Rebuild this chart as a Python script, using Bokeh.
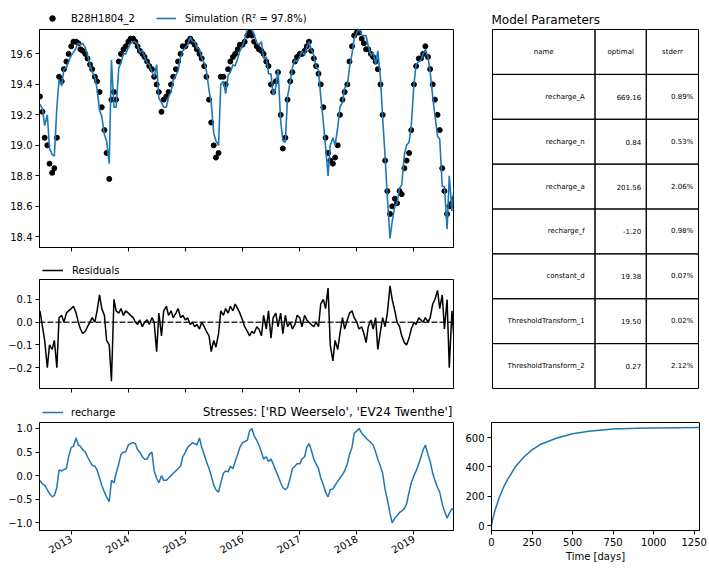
import math
import pandas as pd
from bokeh.plotting import figure
from bokeh.layouts import row, column
from bokeh.models import (Range1d, FixedTicker, DatetimeTickFormatter, Legend, LegendItem,
                          Span, ColumnDataSource, CustomJSTickFormatter, Label)
from bokeh.core.properties import value
from bokeh.embed import file_html
from bokeh.resources import INLINE

# ---------------- data (semi-monthly readings: 1st and 15th of each month) ----------------
obs_2012 = [19.32, 19.22, 19.05, 19.00, 18.88, 18.82, 18.85, 19.05, 19.45, 19.42, 19.50, 19.55, 19.60]
obs_2013 = [19.65, 19.68, 19.68, 19.67, 19.63, 19.62, 19.60, 19.57, 19.53, 19.50, 19.45, 19.42,
            19.35, 19.25, 19.10, 18.95, 18.78, 19.30, 19.35, 19.30, 19.55, 19.60, 19.63, 19.65]
obs_2014 = [19.68, 19.70, 19.70, 19.68, 19.65, 19.62, 19.60, 19.58, 19.55, 19.52, 19.50, 19.45,
            19.40, 19.35, 19.22, 19.30, 19.32, 19.35, 19.40, 19.45, 19.50, 19.55, 19.60, 19.65]
obs_2015 = [19.65, 19.68, 19.70, 19.68, 19.66, 19.63, 19.60, 19.57, 19.52, 19.45, 19.30, 19.15,
            19.00, 18.92, 18.95, 19.45, 19.45, 19.40, 19.50, 19.55, 19.58, 19.60, 19.63, 19.66]
obs_2016 = [19.66, 19.68, 19.72, 19.74, 19.72, 19.68, 19.65, 19.63, 19.62, 19.60, 19.55, 19.52,
            19.40, 19.35, 19.42, 19.48, 19.20, 18.98, 19.05, 19.30, 19.42, 19.48, 19.55, 19.58]
obs_2017 = [19.60, 19.60, 19.62, 19.65, 19.68, 19.62, 19.57, 19.52, 19.47, 19.40, 19.25, 19.05,
            18.95, 18.90, 18.88, 18.92, 19.00, 19.20, 19.30, 19.35, 19.40, 19.55, 19.65, 19.72]
obs_2018 = [19.74, 19.74, 19.70, 19.67, 19.63, 19.63, 19.60, 19.58, 19.55, 19.50, 19.40, 19.20,
            18.90, 18.70, 18.55, 18.60, 18.65, 18.62, 18.70, 18.68, 18.85, 18.90, 18.95, 19.10]
obs_2019 = [19.40, 19.52, 19.57, 19.57, 19.60, 19.65, 19.58, 19.50, 19.40, 19.30, 19.20, 19.10,
            18.85, 18.70, 18.55, 18.60, 18.62, 18.65]

res_2012 = [0.05, -0.02, -0.08, -0.20, -0.10, -0.12, -0.08, -0.20, 0.02, 0.03, 0.00, 0.04, 0.05]
res_2013 = [0.06, 0.07, 0.04, 0.00, -0.03, -0.05, -0.04, -0.02, 0.00, 0.02, 0.00, 0.05,
            0.12, 0.06, 0.03, -0.08, -0.10, -0.26, 0.10, 0.05, 0.04, 0.06, 0.03, 0.05]
res_2014 = [0.04, 0.03, 0.02, 0.00, -0.01, 0.01, -0.02, 0.00, 0.01, -0.01, 0.02, 0.00,
            -0.13, 0.04, -0.06, 0.05, 0.07, 0.03, 0.05, 0.02, 0.04, 0.06, 0.02, 0.03]
res_2015 = [0.01, 0.02, -0.01, 0.00, -0.02, -0.01, -0.03, 0.00, -0.02, -0.04, -0.06, -0.13,
            -0.08, -0.11, -0.05, 0.05, 0.03, 0.06, 0.04, 0.07, 0.05, 0.08, 0.06, 0.04]
res_2016 = [0.01, -0.02, -0.04, -0.06, -0.04, -0.05, -0.02, -0.03, -0.06, 0.03, -0.03, 0.05,
            -0.07, 0.02, 0.04, -0.02, 0.04, -0.05, 0.03, -0.02, 0.00, -0.03, -0.01, 0.03]
res_2017 = [0.02, -0.02, 0.03, 0.01, 0.00, -0.01, -0.02, 0.00, -0.02, 0.08, 0.10, 0.06,
            0.15, -0.10, -0.17, -0.08, -0.12, -0.05, 0.02, -0.03, 0.01, 0.04, 0.05, 0.02]
res_2018 = [0.00, -0.03, -0.02, -0.05, -0.09, -0.02, 0.01, -0.03, 0.02, -0.12, -0.04, 0.02,
            -0.02, 0.04, 0.16, 0.10, 0.05, 0.00, -0.02, -0.06, -0.09, -0.10, -0.07, -0.03]
res_2019 = [0.00, -0.01, 0.02, 0.01, 0.00, 0.02, 0.00, 0.02, 0.08, 0.10, 0.14, 0.06,
            0.12, -0.03, 0.10, -0.20, 0.05, -0.08]

rch_2012 = [-0.10, -0.18, -0.20, -0.30, -0.38, -0.45, -0.42, -0.25, 0.12, 0.10, 0.13, 0.15, 0.40]
rch_2013 = [0.60, 0.62, 0.80, 0.65, 0.62, 0.55, 0.50, 0.40, 0.30, 0.22, 0.20, 0.12,
            -0.05, -0.20, -0.35, -0.45, -0.55, -0.10, -0.15, 0.05, 0.25, 0.45, 0.50, 0.50]
rch_2014 = [0.65, 0.68, 0.70, 0.68, 0.55, 0.50, 0.40, 0.35, 0.35, 0.45, 0.50, 0.10,
            -0.05, -0.15, 0.00, -0.10, -0.10, -0.05, 0.00, 0.05, 0.10, 0.15, 0.20, 0.40]
rch_2015 = [0.50, 0.60, 0.65, 0.70, 0.68, 0.65, 0.80, 0.60, 0.45, 0.30, 0.15, 0.00,
            -0.20, -0.30, -0.35, -0.15, 0.05, 0.10, 0.08, 0.20, 0.15, 0.30, 0.45, 0.60]
rch_2016 = [0.70, 0.72, 0.75, 0.95, 1.00, 0.85, 0.75, 0.65, 0.50, 0.35, 0.40, 0.30,
            0.35, 0.25, 0.10, 0.00, -0.15, -0.25, -0.30, -0.25, -0.05, 0.15, 0.20, 0.25]
rch_2017 = [0.25, 0.35, 0.40, 0.60, 0.68, 0.55, 0.35, 0.25, 0.15, -0.05, -0.20, -0.35,
            -0.45, -0.30, -0.28, -0.20, -0.12, -0.05, 0.02, 0.10, 0.25, 0.45, 0.60, 0.90]
rch_2018 = [0.95, 1.00, 0.90, 0.85, 0.80, 0.75, 0.70, 0.65, 0.50, 0.35, 0.20, 0.05,
            -0.30, -0.50, -0.80, -1.00, -0.90, -0.85, -0.78, -0.75, -0.70, -0.60, -0.35, -0.15]
rch_2019 = [0.00, 0.10, 0.25, 0.40, 0.55, 0.65, 0.45, 0.30, 0.05, -0.10, -0.25, -0.35,
            -0.60, -0.75, -0.90, -0.80, -0.70, -0.72]

tick_years = [2013, 2014, 2015, 2016, 2017, 2018, 2019]

step_t = [0, 5, 10, 25, 50, 75, 100, 150, 200, 250, 300, 400, 500, 600, 750, 900, 1000, 1150, 1283]
step_v = [0, 32, 56, 116, 197, 263, 315, 405, 468, 516, 553, 596, 626, 644, 658, 664, 666, 668, 669]

param_names = ["recharge_A", "recharge_n", "recharge_a", "recharge_f", "constant_d",
               "ThresholdTransform_1", "ThresholdTransform_2"]
param_optimal = [669.16, 0.84, 201.56, -1.20, 19.38, 19.50, 0.27]
param_stderr = [0.89, 0.53, 2.06, 0.98, 0.07, 0.02, 2.12]
table_header = ["name", "optimal", "stderr"]

# ---------------- build series ----------------
obs = obs_2012 + obs_2013 + obs_2014 + obs_2015 + obs_2016 + obs_2017 + obs_2018 + obs_2019
res = res_2012 + res_2013 + res_2014 + res_2015 + res_2016 + res_2017 + res_2018 + res_2019
rch = rch_2012 + rch_2013 + rch_2014 + rch_2015 + rch_2016 + rch_2017 + rch_2018 + rch_2019
dates = pd.date_range("2012-06-15", "2019-09-15", freq="SMS")
n = min(len(dates), len(obs), len(res), len(rch))
src = ColumnDataSource(dict(t=dates[:n], obs=obs[:n], res=res[:n], rch=rch[:n],
                            sim=[o - r for o, r in zip(obs[:n], res[:n])]))

FONT = "DejaVu Sans"
C0 = "#1f77b4"
NAN = [float("nan")]

xr = Range1d(pd.Timestamp("2012-06-12"), pd.Timestamp("2019-09-11"))
year_ticks = [pd.Timestamp(f"{y}-01-01").value // 10**6 for y in tick_years]
fmt1 = CustomJSTickFormatter(code="return tick.toFixed(1).replace('-', '\\u2212');")
fmt0 = CustomJSTickFormatter(code="return tick.toFixed(0).replace('-', '\\u2212');")
fmt_blank = CustomJSTickFormatter(code="return '';")


def style(p):
    p.xgrid.visible = False
    p.ygrid.visible = False
    p.outline_line_color = "black"
    p.outline_line_alpha = 1.0
    p.outline_line_width = 1
    p.background_fill_color = "white"
    p.border_fill_color = "white"
    for ax in p.axis:
        ax.major_tick_in = 0
        ax.major_tick_out = 4
        ax.minor_tick_in = 0
        ax.minor_tick_out = 0
        ax.axis_line_color = "black"
        ax.major_tick_line_color = "black"
        ax.major_label_text_font = FONT
        ax.major_label_text_font_size = "10px"
        ax.major_label_text_color = "black"
        ax.major_label_standoff = 3


def header_fig(height):
    # frame of this strip is aligned by the layout with the frame of the plot below it
    h = figure(width=462, height=height, x_range=Range1d(0, 1), y_range=Range1d(0, 1),
               x_axis_type=None, y_axis_type=None, output_backend="svg", toolbar_location=None,
               min_border_left=0, min_border_right=0, min_border_top=0, min_border_bottom=0)
    h.xgrid.visible = False
    h.ygrid.visible = False
    h.outline_line_color = None
    h.background_fill_color = "white"
    h.border_fill_color = "white"
    return h


def make_legend(items, loc, glyph_width, standoff, spacing=20):
    return Legend(items=items, orientation="horizontal", location=loc,
                  border_line_color=None, background_fill_alpha=0, padding=0, margin=0,
                  spacing=spacing, glyph_width=glyph_width, glyph_height=14, label_height=14,
                  label_standoff=standoff, label_text_font=FONT, label_text_font_size="10px",
                  label_text_color="black")


def ts_fig(height, yr, bb):
    p = figure(width=462, height=height, x_range=xr, y_range=yr, x_axis_type="datetime",
               output_backend="svg", toolbar_location=None,
               min_border_left=39, min_border_right=9, min_border_top=1, min_border_bottom=bb)
    style(p)
    p.xaxis.ticker = FixedTicker(ticks=year_ticks)
    p.xaxis.formatter = DatetimeTickFormatter(years="%Y", months="%Y", days="%Y", hours="%Y",
                                              minutes="%Y", seconds="%Y")
    return p


# ---- header 1: legend of the heads plot ----
h1 = header_fig(28)
lg_obs = h1.scatter(x=NAN, y=NAN, size=5, color="black")
lg_sim = h1.line(x=NAN, y=NAN, line_color=C0, line_width=1.6)
h1.add_layout(make_legend([LegendItem(label="B28H1804_2", renderers=[lg_obs]),
                           LegendItem(label="Simulation (R² = 97.8%)", renderers=[lg_sim])],
                          (3, 3), 20, 9, spacing=21))

# ---- top: observations and simulation ----
p1 = ts_fig(234, Range1d(18.33, 19.76), 15)
p1.scatter("t", "obs", source=src, size=5, color="black")
p1.line("t", "sim", source=src, line_color=C0, line_width=1.6)
p1.yaxis.ticker = FixedTicker(ticks=[18.4, 18.6, 18.8, 19.0, 19.2, 19.4, 19.6])
p1.yaxis.formatter = fmt1
p1.xaxis.formatter = fmt_blank
p1.xaxis.major_label_text_font_size = "1px"
p1.xaxis.major_label_standoff = 0

# ---- header 2: residuals legend ----
h2 = header_fig(16)
lg_res = h2.line(x=NAN, y=NAN, line_color="black", line_width=1.5)
h2.add_layout(make_legend([LegendItem(label="Residuals", renderers=[lg_res])], (3, 1), 21, 9))

# ---- residuals ----
p2 = ts_fig(124, Range1d(-0.292, 0.188), 14)
p2.add_layout(Span(location=0, dimension="width", line_color="black", line_alpha=0.8,
                   line_dash="6 2", line_width=1.5))
p2.line("t", "res", source=src, line_color="black", line_width=1.5)
p2.yaxis.ticker = FixedTicker(ticks=[-0.2, -0.1, 0.0, 0.1])
p2.yaxis.formatter = fmt1
p2.xaxis.formatter = fmt_blank
p2.xaxis.major_label_text_font_size = "1px"
p2.xaxis.major_label_standoff = 0

# ---- header 3: stresses legend and title ----
h3 = header_fig(19)
lg_rch = h3.line(x=NAN, y=NAN, line_color=C0, line_width=1.5)
h3.add_layout(make_legend([LegendItem(label="recharge", renderers=[lg_rch])], (3, 2), 21, 8))
h3.add_layout(Label(x=413, y=9.5, x_units="screen", y_units="screen",
                    text="Stresses: ['RD Weerselo', 'EV24 Twenthe']", text_align="right",
                    text_baseline="middle", text_font=FONT, text_font_size="12px",
                    text_color="black"))

# ---- stresses ----
p3 = ts_fig(147, Range1d(-1.163, 1.127), 38)
p3.line("t", "rch", source=src, line_color=C0, line_width=1.5)
p3.yaxis.ticker = FixedTicker(ticks=[-1.0, -0.5, 0.0, 0.5, 1.0])
p3.yaxis.formatter = fmt1
p3.xaxis.major_label_orientation = math.pi / 6

# ---- parameter table ----
ROWS = len(param_names) + 1
row_h = 359 / ROWS
col_edges = [0, 104, 156, 209]
pt = figure(width=247, height=402, x_range=Range1d(-1, 210), y_range=Range1d(-1, 360),
            x_axis_type=None, y_axis_type=None, output_backend="svg", toolbar_location=None,
            min_border_left=27, min_border_right=9, min_border_top=28, min_border_bottom=13,
            title="Model Parameters")
pt.xgrid.visible = False
pt.ygrid.visible = False
pt.outline_line_color = None
pt.title.text_font = FONT
pt.title.text_font_size = "12px"
pt.title.text_font_style = "normal"
pt.title.text_color = "black"
pt.title.standoff = 3
cl, cr, ctop, cbot = [], [], [], []
for r in range(ROWS):
    for c in range(3):
        cl.append(col_edges[c]); cr.append(col_edges[c + 1])
        ctop.append(359 - r * row_h); cbot.append(359 - (r + 1) * row_h)
pt.quad(left=cl, right=cr, top=ctop, bottom=cbot, fill_color=None, line_color="black", line_width=1)
hx = [(col_edges[c] + col_edges[c + 1]) / 2 for c in range(3)]
hy = [359 - row_h / 2] * 3
pt.text(x=hx, y=hy, text=table_header, text_align="center", text_baseline="middle",
        text_font=value(FONT), text_font_size=value("7px"), text_color="black")
ry = [359 - (i + 1.5) * row_h for i in range(len(param_names))]
for c, texts in enumerate([param_names,
                           ["%.2f" % v for v in param_optimal],
                           ["%.2f%%" % v for v in param_stderr]]):
    w = col_edges[c + 1] - col_edges[c]
    xs = [col_edges[c + 1] - 0.1 * w] * len(texts)
    pt.text(x=xs, y=ry, text=texts, text_align="right", text_baseline="middle",
            text_font=value(FONT), text_font_size=value("7px"), text_color="black")

# ---- step response ----
ps = figure(width=247, height=166, x_range=Range1d(0, 1283), y_range=Range1d(-33, 703),
            output_backend="svg", toolbar_location=None,
            min_border_left=28, min_border_right=10, min_border_top=20, min_border_bottom=38)
style(ps)
ps.line(step_t, step_v, line_color=C0, line_width=1.5)
ps.xaxis.ticker = FixedTicker(ticks=[0, 250, 500, 750, 1000, 1250])
ps.yaxis.ticker = FixedTicker(ticks=[0, 200, 400, 600])
ps.xaxis.formatter = fmt0
ps.yaxis.formatter = fmt0
ps.xaxis.axis_label = "Time [days]"
ps.xaxis.axis_label_text_font = FONT
ps.xaxis.axis_label_text_font_size = "10px"
ps.xaxis.axis_label_text_font_style = "normal"
ps.xaxis.axis_label_text_color = "black"
ps.xaxis.axis_label_standoff = 2

layout = row(column(h1, p1, h2, p2, h3, p3), column(pt, ps))
open("out.html", "w").write(file_html(layout, INLINE))
